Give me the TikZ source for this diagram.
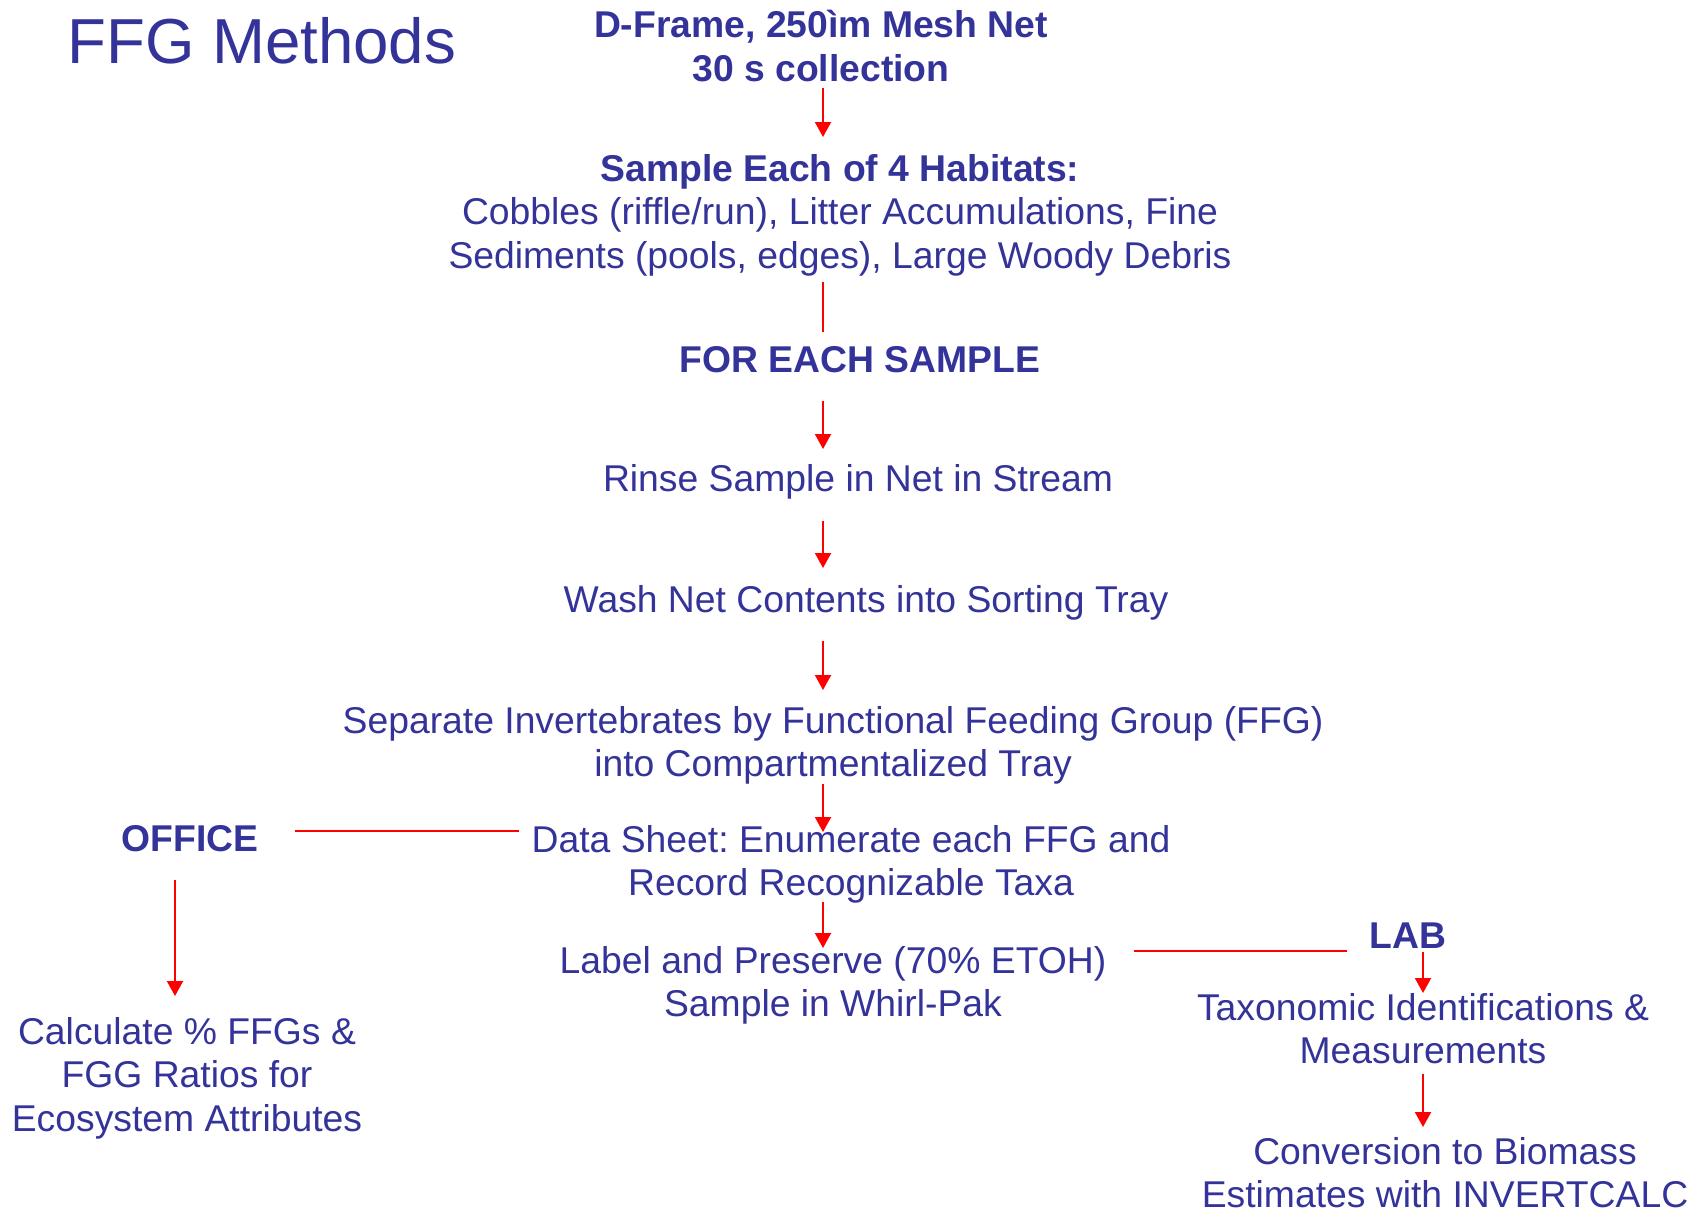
\documentclass[tikz,border=0pt]{standalone}
\usepackage{fontspec}
\setmainfont{Liberation Sans}
\usetikzlibrary{arrows.meta,calc}
\definecolor{txtc}{HTML}{333399}
\definecolor{arrc}{HTML}{FF0000}
\newcommand\bodyfont{\fontsize{18.65pt}{21.7pt}\selectfont\frenchspacing}
\tikzset{
  txt/.style={text=txtc, align=center, inner sep=0pt, anchor=north, font=\bodyfont,
    execute at begin node=\strut, execute at end node=\strut},
  bld/.style={txt, font=\bodyfont\bfseries},
  con/.style={draw=arrc, line width=1pt},
  arr/.style={con, -{Triangle[length=7.5pt,width=8pt]}}
}
\begin{document}
\begin{tikzpicture}[x=0.5pt,y=-0.5pt]
\useasboundingbox (0,0) rectangle (1701,1210);
\coordinate (col) at (823,0);
\node[text=txtc, inner sep=0pt, anchor=base west, font=\fontsize{31.8pt}{38pt}\selectfont] (title) at (67,63) {FFG Methods};

\node[bld] (dframe) at (821,{40.3-30.4}) {D-Frame, 250ìm Mesh Net\\30 s collection};
\node[txt] (habitat) at (840,{184.4-30.4}) {\textbf{Sample Each of 4 Habitats:}\\Cobbles (riffle/run), Litter Accumulations, Fine\\Sediments (pools, edges), Large Woody Debris};
\node[bld] (foreach) at (860,{372-30.4}) {FOR EACH SAMPLE};
\node[txt] (rinse) at (858,{491-30.4}) {Rinse Sample in Net in Stream};
\node[txt] (wash) at (866,{612-30.4}) {Wash Net Contents into Sorting Tray};
\node[txt] (separate) at (833,{736.4-30.4}) {Separate Invertebrates by Functional Feeding Group (FFG)\\into Compartmentalized Tray};
\node[txt] (datasheet) at (851,{855.5-30.4}) {Data Sheet: Enumerate each FFG and\\Record Recognizable Taxa};
\node[txt] (label) at (833,{976.4-30.4}) {Label and Preserve (70\% ETOH)\\Sample in Whirl-Pak};

\node[bld] (office) at (190,{850.8-30.4}) {OFFICE};
\node[txt] (calc) at (187,{1047.4-30.4}) {Calculate \% FFGs \&\\FGG Ratios for\\Ecosystem Attributes};

\node[bld] (lab) at (1408,{948-30.4}) {LAB};
\node[txt] (taxo) at (1423,{1023.3-30.4}) {Taxonomic Identifications \&\\Measurements};
\node[txt, execute at end node={}] (conv) at (1445,{1167.3-30.4}) {Conversion to Biomass\\Estimates with INVERTCALC};

% main column
\draw[arr] ($(dframe.south -| col)+(0,-6.4)$) -- ($(habitat.north -| col)+(0,-17)$);
\draw[con] ($(habitat.south -| col)+(0,0)$) -- ($(foreach.north -| col)+(0,-9.6)$);
\draw[arr] ($(foreach.south -| col)+(0,15)$) -- ($(rinse.north -| col)+(0,-11.6)$);
\draw[arr] ($(rinse.south -| col)+(0,16)$) -- ($(wash.north -| col)+(0,-13.6)$);
\draw[arr] ($(wash.south -| col)+(0,15)$) -- ($(separate.north -| col)+(0,-16)$);
\draw[arr] ($(separate.south -| col)+(0,-6.4)$) -- ($(datasheet.north -| col)+(0,6.9)$);
\draw[arr] ($(datasheet.south -| col)+(0,-7.4)$) -- ($(label.north -| col)+(0,2)$);

% office branch
\draw[con] ($(office.east)+(36,-11.1)$) coordinate (o1) -- ($(datasheet.west |- o1)+(-12,0)$);
\draw[arr] ($(office.south)+(-15,15.2)$) coordinate (o2) -- ($(o2 |- calc.north)+(0,-21)$);

% lab branch
\draw[con] ($(lab.west)+(-22,11.7)$) coordinate (l1) -- ($(label.east |- l1)+(27,0)$);
\draw[arr] ($(lab.south)+(15,-10)$) coordinate (l2) -- ($(l2 |- taxo.north)+(0,0.1)$);
\draw[arr] ($(taxo.south)+(0,-3.4)$) -- ($(conv.north -| taxo.south)+(0,-9.9)$);
\end{tikzpicture}
\end{document}
